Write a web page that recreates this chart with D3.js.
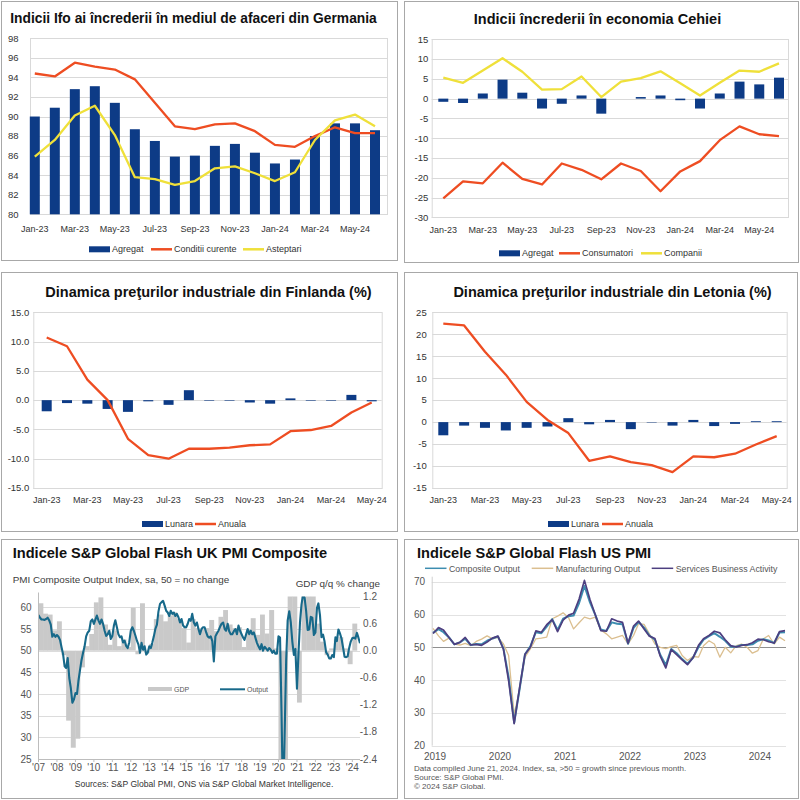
<!DOCTYPE html>
<html>
<head>
<meta charset="utf-8">
<script src="https://cdn.jsdelivr.net/npm/d3@7"></script>
<style>
  body { margin: 0; background: #fff; }
  svg { display: block; font-family: "Liberation Sans", Arial, sans-serif; }
</style>
</head>
<body>
<svg id="chart" width="800" height="800"></svg>
<script>
// ---- data ----
const months = ["Jan-23", "Feb-23", "Mar-23", "Apr-23", "May-23", "Jun-23", "Jul-23", "Aug-23", "Sep-23",
    "Oct-23", "Nov-23", "Dec-23", "Jan-24", "Feb-24", "Mar-24", "Apr-24", "May-24", "Jun-24"];
const monthsToMay = months.slice(0, 17);

const ifoAgregat = [90.0, 90.9, 92.8, 93.1, 91.4, 88.7, 87.5, 85.9, 86.0, 87.0, 87.2, 86.3, 85.2, 85.6, 88.0, 89.3, 89.3, 88.6];
const ifoCurente = [94.4, 94.1, 95.5, 95.1, 94.8, 93.8, 91.4, 89.0, 88.7, 89.2, 89.3, 88.5, 87.1, 86.9, 88.0, 88.9, 88.3, 88.3];
const ifoAsteptari = [85.9, 87.6, 90.1, 91.1, 88.1, 83.8, 83.6, 83.0, 83.4, 84.7, 84.9, 84.2, 83.4, 84.3, 87.6, 89.6, 90.2, 89.0];

const czAgregat = [-0.8, -1.1, 1.3, 4.8, 1.5, -2.5, -1.3, 0.8, -3.8, 0.0, 0.4, 0.8, -0.4, -2.5, 1.3, 4.3, 3.6, 5.3];
const czConsumatori = [-25.2, -20.9, -21.4, -16.2, -20.3, -21.7, -16.4, -18.0, -20.4, -16.4, -18.3, -23.4, -18.4, -15.8, -10.5, -7.0, -9.0, -9.5];
const czCompanii = [5.3, 4.0, 7.1, 10.2, 6.8, 2.3, 2.4, 5.6, 0.4, 4.3, 5.2, 6.9, 3.9, 0.8, 4.0, 7.1, 6.8, 8.9];

const fiLunara = [-1.9, -0.5, -0.6, -1.5, -2.0, -0.2, -0.8, 1.7, -0.1, -0.1, -0.4, -0.6, 0.3, -0.1, -0.1, 0.9, -0.2];
const fiAnuala = [10.7, 9.2, 3.5, 0.0, -6.6, -9.4, -10.0, -8.3, -8.3, -8.1, -7.7, -7.55, -5.3, -5.1, -4.4, -2.1, -0.4];

const lvLunara = [-3.0, -0.8, -1.3, -1.9, -1.3, -1.0, 0.9, -0.5, 0.5, -1.6, -0.1, -0.8, 0.5, -0.9, -0.4, 0.2, 0.2];
const lvAnuala = [22.4, 22.0, 16.0, 10.8, 4.6, 0.5, -2.5, -8.8, -7.8, -9.1, -9.8, -11.4, -7.8, -8.0, -7.2, -5.1, -3.2];

// UK composite output, monthly Jan 2007 - Jun 2024
const ukOutput = [
    58.2, 57.6, 57.2, 57.2, 57.1, 57.3, 57.6, 57.0, 56.0, 53.2, 53.8, 53.2,
    53.6, 53.2, 52.5, 50.8, 49.2, 46.4, 46.0, 48.3, 43.7, 41.4, 38.0, 38.7,
    40.2, 40.0, 43.0, 45.5, 47.8, 49.5, 51.0, 53.3, 54.2, 54.6, 56.8, 57.2,
    56.2, 57.2, 58.1, 57.0, 56.2, 57.2, 56.2, 54.6, 53.4, 53.8, 54.6, 52.7,
    53.4, 55.8, 57.0, 55.4, 53.8, 53.1, 53.3, 51.9, 52.3, 51.1, 50.6, 51.9,
    54.6, 55.4, 54.6, 53.5, 52.3, 51.4, 49.5, 51.8, 50.2, 51.0, 49.1, 49.5,
    51.0, 50.6, 51.8, 53.3, 55.0, 56.0, 59.0, 60.8, 61.2, 61.5, 60.4, 59.2,
    58.8, 58.0, 59.2, 58.5, 58.8, 58.0, 58.5, 57.7, 56.5, 57.3, 55.8, 55.4,
    55.4, 56.2, 57.3, 56.9, 58.5, 56.5, 55.8, 56.5, 55.0, 53.8, 55.0, 55.4,
    55.4, 54.2, 53.3, 53.0, 53.3, 52.2, 47.5, 53.3, 54.0, 54.6, 55.5, 56.2,
    56.5, 55.0, 54.6, 56.2, 54.5, 53.8, 53.8, 54.5, 55.0, 53.8, 55.8, 54.6,
    53.8, 53.0, 52.5, 53.8, 55.0, 53.8, 54.6, 53.8, 54.2, 53.0, 51.8, 51.0,
    50.3, 51.5, 50.0, 50.9, 50.5, 50.0, 50.6, 50.2, 49.5, 50.0, 49.3, 49.3,
    53.3, 53.0, 36.0, 13.8, 30.0, 47.7, 57.0, 59.1, 56.5, 52.1, 49.0, 50.4,
    41.2, 49.6, 56.4, 60.7, 62.9, 62.2, 59.2, 54.8, 54.9, 57.8, 57.6, 53.6,
    54.2, 59.9, 60.9, 58.2, 53.1, 53.7, 52.1, 49.6, 49.1, 48.2, 48.2, 49.0,
    48.5, 53.1, 52.2, 54.9, 54.0, 52.8, 50.8, 48.6, 48.5, 48.7, 50.7, 52.1,
    52.9, 53.0, 52.8, 54.1, 53.0, 51.7
];
// UK GDP q/q %, 2007 Q1 - 2024 Q1
const ukGdp = [
    1.05, 0.82, 0.80, 0.45,
    0.65, -0.10, -1.55, -2.15,
    -1.95, -0.37, 0.10, 0.37,
    1.07, 1.18, 0.58, 0.13,
    0.45, 0.10, 0.25, 0.08,
    0.95, -0.08, 1.05, -0.05,
    0.15, 0.70, 0.80, 0.65,
    0.78, 0.85, 0.70, 0.50,
    0.18, 0.70, 0.50, 0.47,
    0.50, 0.68, 0.43, 0.75,
    0.90, 0.58, 0.50, 0.52,
    0.08, 0.47, 0.72, 0.35,
    0.80, 0.38, 0.90, 0.05,
    -2.6, -19.4, 16.0, 1.3,
    -1.15, 7.0, 1.7, 1.5,
    0.60, 0.20, -0.10, 0.05,
    0.25, 0.30, 0.05, -0.30,
    0.60
];
const ukYearLabels = ["'07", "'08", "'09", "'10", "'11", "'12", "'13", "'14", "'15", "'16", "'17", "'18",
    "'19", "'20", "'21", "'22", "'23", "'24"];

// US flash PMI, monthly Jan 2019 - Jun 2024
const usComposite = [
    54.4, 55.5, 54.6, 53.0, 50.9, 51.5, 52.6, 50.7, 51.0, 50.9, 52.0, 52.7,
    53.3, 49.6, 40.9, 27.0, 37.0, 47.9, 50.3, 54.6, 54.3, 56.3, 58.6, 55.3,
    58.7, 59.5, 59.7, 63.5, 68.7, 63.7, 59.9, 55.4, 55.0, 57.6, 57.2, 57.0,
    51.1, 55.9, 57.7, 56.0, 53.6, 52.3, 47.7, 44.6, 49.5, 48.2, 46.4, 45.0,
    46.8, 50.1, 52.3, 53.4, 54.3, 53.2, 52.0, 50.2, 50.2, 50.7, 50.7, 50.9,
    52.0, 52.5, 52.1, 51.3, 54.5, 54.6
];
const usManufacturing = [
    55.8, 53.5, 51.8, 52.8, 51.0, 50.7, 51.2, 50.5, 51.8, 52.5, 53.5, 52.6,
    53.0, 51.0, 47.5, 29.5, 37.0, 47.0, 49.5, 52.6, 52.8, 53.1, 58.7, 59.5,
    60.5, 59.0, 55.6, 57.5, 59.2, 58.7, 59.2, 55.3, 54.1, 52.6, 53.1, 53.6,
    51.0, 53.6, 57.2, 57.0, 54.1, 51.0, 50.0, 49.6, 50.2, 50.6, 47.5, 46.0,
    47.2, 47.0, 50.5, 52.0, 51.0, 47.0, 50.0, 48.3, 50.5, 51.0, 50.0, 48.2,
    49.0, 52.6, 53.6, 51.0, 53.1, 52.0
];
const usServices = [
    54.2, 56.0, 55.3, 53.0, 50.9, 51.5, 53.0, 50.7, 50.9, 50.6, 51.6, 52.8,
    53.4, 49.4, 39.8, 26.7, 37.5, 47.9, 50.0, 55.0, 54.6, 56.9, 58.4, 54.8,
    58.3, 59.8, 60.4, 64.7, 70.4, 64.6, 59.9, 55.1, 54.9, 58.7, 58.0, 57.6,
    51.2, 56.5, 58.0, 55.6, 53.4, 52.7, 47.3, 43.7, 49.3, 47.8, 46.2, 44.7,
    46.8, 50.6, 52.6, 53.6, 54.9, 54.4, 52.3, 50.5, 50.1, 50.6, 50.8, 51.4,
    52.5, 52.3, 51.7, 51.3, 54.8, 55.1
];
const usYearLabels = ["2019", "2020", "2021", "2022", "2023", "2024"];

// ---- drawing ----
const navy = "#0d3b86";
const red = "#ee4d22";
const yellow = "#efe03a";
const svg = d3.select("#chart");

function frame(x, y, w, h) {
    svg.append("rect")
        .attr("x", x + 0.5).attr("y", y + 0.5)
        .attr("width", w).attr("height", h)
        .attr("fill", "#fff")
        .attr("stroke", "#a8a8a8");
}

function comboChart(cfg) {
    const x = d3.scalePoint().domain(cfg.categories).range([cfg.xFirst, cfg.xLast]);
    const y = d3.scaleLinear().domain(cfg.yDomain).range([cfg.bottom, cfg.top]);
    const g = svg.append("g");

    g.selectAll(".grid")
        .data(cfg.yTicks)
        .join("line")
        .attr("x1", cfg.left).attr("x2", cfg.right)
        .attr("y1", d => Math.round(y(d)) + 0.5).attr("y2", d => Math.round(y(d)) + 0.5)
        .attr("stroke", "#d9d9d9");

    g.append("rect")
        .attr("x", cfg.left + 0.5).attr("y", Math.round(cfg.top) + 0.5)
        .attr("width", cfg.right - cfg.left).attr("height", Math.round(cfg.bottom) - Math.round(cfg.top))
        .attr("fill", "none")
        .attr("stroke", "#d9d9d9");

    g.selectAll(".ylab")
        .data(cfg.yTicks)
        .join("text")
        .attr("x", cfg.yLabelX)
        .attr("y", d => y(d))
        .attr("dy", "0.35em")
        .attr("text-anchor", "end")
        .attr("font-size", 9.5)
        .attr("fill", "#333")
        .text(cfg.yFormat);

    g.selectAll(".xlab")
        .data(cfg.categories.filter((d, i) => i % 2 === 0))
        .join("text")
        .attr("x", d => x(d))
        .attr("y", cfg.xLabelY)
        .attr("text-anchor", "middle")
        .attr("font-size", 9)
        .attr("fill", "#333")
        .text(d => d);

    const base = y(Math.max(cfg.yDomain[0], 0));
    g.selectAll(".bar")
        .data(cfg.bars)
        .join("rect")
        .attr("x", (d, i) => x(cfg.categories[i]) - cfg.barWidth / 2)
        .attr("y", d => Math.min(y(d), base))
        .attr("width", cfg.barWidth)
        .attr("height", d => Math.abs(base - y(d)))
        .attr("fill", navy);

    cfg.lines.forEach(s => {
        g.append("path")
            .datum(s.values)
            .attr("fill", "none")
            .attr("stroke", s.color)
            .attr("stroke-width", 2.3)
            .attr("stroke-linejoin", "round")
            .attr("d", d3.line().x((d, i) => x(cfg.categories[i])).y(d => y(d)));
    });

    g.append("text")
        .attr("x", cfg.titleX).attr("y", cfg.titleY)
        .attr("text-anchor", "middle")
        .attr("font-size", cfg.titleSize)
        .attr("font-weight", "bold")
        .attr("fill", "#111")
        .text(cfg.title);

    cfg.legend.forEach(item => {
        if (item.type === "bar") {
            g.append("rect")
                .attr("x", item.x).attr("y", cfg.legendY - 3)
                .attr("width", 21).attr("height", 6)
                .attr("fill", navy);
        } else {
            g.append("line")
                .attr("x1", item.x).attr("x2", item.x + 21)
                .attr("y1", cfg.legendY).attr("y2", cfg.legendY)
                .attr("stroke", item.color)
                .attr("stroke-width", 2.5);
        }
        g.append("text")
            .attr("x", item.x + 23).attr("y", cfg.legendY)
            .attr("dy", "0.35em")
            .attr("font-size", 9)
            .attr("fill", "#333")
            .text(item.label);
    });
}

function ukChart() {
    const left = 38.5, right = 360, top = 596.5, bottom = 759;
    const x = d3.scaleTime().domain([new Date(2007, 0, 1), new Date(2024, 5, 1)]).range([left, right]);
    const yL = d3.scaleLinear().domain([25, 62.5]).range([bottom, top]);
    const yR = d3.scaleLinear().domain([-2.4, 1.2]).range([bottom, top]);
    const g = svg.append("g");

    svg.append("clipPath").attr("id", "ukclip")
        .append("rect").attr("x", left).attr("y", top)
        .attr("width", right - left).attr("height", bottom - top);

    g.selectAll(".grid")
        .data(d3.range(30, 61, 5))
        .join("line")
        .attr("x1", left).attr("x2", right)
        .attr("y1", d => Math.round(yL(d)) + 0.5).attr("y2", d => Math.round(yL(d)) + 0.5)
        .attr("stroke", "#dcdcdc");

    const plot = g.append("g").attr("clip-path", "url(#ukclip)");
    plot.selectAll(".gdp")
        .data(ukGdp)
        .join("rect")
        .attr("x", (d, i) => x(new Date(2007, i * 3, 1)))
        .attr("width", (d, i) => x(new Date(2007, i * 3 + 3, 1)) - x(new Date(2007, i * 3, 1)) + 0.3)
        .attr("y", d => Math.min(yR(d), yR(0)))
        .attr("height", d => Math.abs(yR(d) - yR(0)))
        .attr("fill", "#c9c9c9");

    plot.append("path")
        .datum(ukOutput)
        .attr("fill", "none")
        .attr("stroke", "#17698a")
        .attr("stroke-width", 2.1)
        .attr("stroke-linejoin", "round")
        .attr("d", d3.line().x((d, i) => x(new Date(2007, i, 1))).y(d => yL(d)));

    g.append("line")
        .attr("x1", left).attr("x2", left).attr("y1", top - 4).attr("y2", bottom)
        .attr("stroke", "#bdbdbd");
    g.append("line")
        .attr("x1", left).attr("x2", right).attr("y1", bottom + 0.5).attr("y2", bottom + 0.5)
        .attr("stroke", "#bdbdbd");

    g.selectAll(".ylab")
        .data(d3.range(25, 61, 5))
        .join("text")
        .attr("x", 31.7).attr("y", d => yL(d)).attr("dy", "0.35em")
        .attr("text-anchor", "end")
        .attr("font-size", 10).attr("fill", "#555")
        .text(d => d);

    g.selectAll(".rlab")
        .data([1.2, 0.6, 0, -0.6, -1.2, -1.8, -2.4])
        .join("text")
        .attr("x", 377).attr("y", d => yR(d)).attr("dy", "0.35em")
        .attr("text-anchor", "end")
        .attr("font-size", 10).attr("fill", "#555")
        .text(d => d.toFixed(1));

    const years = ukYearLabels.map((d, i) => new Date(2007 + i, 0, 1));
    g.selectAll(".xtick")
        .data(years)
        .join("line")
        .attr("x1", d => x(d)).attr("x2", d => x(d))
        .attr("y1", bottom).attr("y2", bottom + 3)
        .attr("stroke", "#bdbdbd");
    g.selectAll(".xlab")
        .data(years)
        .join("text")
        .attr("x", d => x(d)).attr("y", 771)
        .attr("text-anchor", "middle")
        .attr("font-size", 10).attr("fill", "#555")
        .text((d, i) => ukYearLabels[i]);

    g.append("text")
        .attr("x", 12.7).attr("y", 558.3)
        .attr("font-size", 14.6).attr("font-weight", "bold").attr("fill", "#111")
        .text("Indicele S&P Global Flash UK PMI Composite");
    g.append("text")
        .attr("x", 12.7).attr("y", 582.7)
        .attr("font-size", 9.9).attr("fill", "#404040")
        .text("PMI Composite Output Index, sa, 50 = no change");
    g.append("text")
        .attr("x", 380).attr("y", 586.7)
        .attr("text-anchor", "end")
        .attr("font-size", 9.9).attr("fill", "#404040")
        .text("GDP q/q % change");

    g.append("rect").attr("x", 148).attr("y", 687).attr("width", 24).attr("height", 4).attr("fill", "#c9c9c9");
    g.append("text").attr("x", 174).attr("y", 689.3).attr("dy", "0.35em")
        .attr("font-size", 7).attr("fill", "#555").text("GDP");
    g.append("line").attr("x1", 220).attr("x2", 245).attr("y1", 689.3).attr("y2", 689.3)
        .attr("stroke", "#17698a").attr("stroke-width", 2);
    g.append("text").attr("x", 247).attr("y", 689.3).attr("dy", "0.35em")
        .attr("font-size", 7).attr("fill", "#555").text("Output");

    g.append("text")
        .attr("x", 204).attr("y", 786.5)
        .attr("text-anchor", "middle")
        .attr("font-size", 8.6).attr("fill", "#333")
        .text("Sources: S&P Global PMI, ONS via S&P Global Market Intelligence.");
}

function usChart() {
    const left = 431.7, top = 581.7, bottom = 745.7;
    const x = d3.scaleTime().domain([new Date(2019, 0, 1), new Date(2024, 5, 1)]).range([433, 785]);
    const y = d3.scaleLinear().domain([20, 70]).range([bottom, top]);
    const g = svg.append("g");

    g.selectAll(".grid")
        .data([20, 30, 40, 60, 70])
        .join("line")
        .attr("x1", left).attr("x2", 786)
        .attr("y1", d => Math.round(y(d)) + 0.5).attr("y2", d => Math.round(y(d)) + 0.5)
        .attr("stroke", "#e2e2e2");
    g.append("line")
        .attr("x1", left).attr("x2", 786)
        .attr("y1", Math.round(y(50)) + 0.5).attr("y2", Math.round(y(50)) + 0.5)
        .attr("stroke", "#8f8f8f");
    g.append("line")
        .attr("x1", left + 0.5).attr("x2", left + 0.5).attr("y1", top - 5).attr("y2", bottom)
        .attr("stroke", "#d0d0d0");

    const series = [
        {values: usManufacturing, color: "#dbbf90", width: 1.3},
        {values: usComposite, color: "#3d8db0", width: 2},
        {values: usServices, color: "#4d3f80", width: 1.7}
    ];
    series.forEach(s => {
        g.append("path")
            .datum(s.values)
            .attr("fill", "none")
            .attr("stroke", s.color)
            .attr("stroke-width", s.width)
            .attr("stroke-linejoin", "round")
            .attr("d", d3.line().x((d, i) => x(new Date(2019, i, 1))).y(d => y(d)));
    });

    g.selectAll(".ylab")
        .data(d3.range(20, 71, 10))
        .join("text")
        .attr("x", 425).attr("y", d => y(d)).attr("dy", "0.35em")
        .attr("text-anchor", "end")
        .attr("font-size", 10).attr("fill", "#555")
        .text(d => d);

    g.selectAll(".xlab")
        .data(usYearLabels)
        .join("text")
        .attr("x", (d, i) => x(new Date(2019 + i, 0, 1)) + 2)
        .attr("y", 759.5)
        .attr("text-anchor", "middle")
        .attr("font-size", 10).attr("fill", "#555")
        .text(d => d);

    g.append("text")
        .attr("x", 417).attr("y", 558.3)
        .attr("font-size", 14.6).attr("font-weight", "bold").attr("fill", "#111")
        .text("Indicele S&P Global Flash US PMI");

    const legend = [
        {x: 425, label: "Composite Output", color: "#3d8db0"},
        {x: 531.7, label: "Manufacturing Output", color: "#dbbf90"},
        {x: 651.7, label: "Services Business Activity", color: "#4d3f80"}
    ];
    legend.forEach(item => {
        g.append("line")
            .attr("x1", item.x).attr("x2", item.x + 21.5)
            .attr("y1", 568.3).attr("y2", 568.3)
            .attr("stroke", item.color).attr("stroke-width", 1.5);
        g.append("text")
            .attr("x", item.x + 24).attr("y", 571.5)
            .attr("font-size", 8.8).attr("fill", "#555")
            .text(item.label);
    });

    const notes = ["Data compiled June 21, 2024. Index, sa, >50 = growth since previous month.",
        "Source: S&P Global PMI.", "\u00a9 2024 S&P Global."];
    g.selectAll(".note")
        .data(notes)
        .join("text")
        .attr("x", 414).attr("y", (d, i) => 771 + i * 9)
        .attr("font-size", 8).attr("fill", "#555")
        .text(d => d);
}

frame(1, 1, 396, 259);
frame(404, 1, 394, 261);
frame(1, 272, 396, 259);
frame(404, 272, 393, 259);
frame(1, 539, 396, 259);
frame(404, 539, 394, 259);

comboChart({
    title: "Indicii Ifo ai \u00eencrederii \u00een mediul de afaceri din Germania",
    titleX: 193.5, titleY: 23, titleSize: 13.8,
    categories: months,
    bars: ifoAgregat,
    lines: [{values: ifoCurente, color: red}, {values: ifoAsteptari, color: yellow}],
    left: 30, right: 387, top: 38.3, bottom: 214.3,
    xFirst: 34.8, xLast: 375,
    yDomain: [80, 98], yTicks: d3.range(80, 99, 2), yFormat: d => d,
    yLabelX: 18.5, xLabelY: 232, barWidth: 10,
    legendY: 249.3,
    legend: [
        {type: "bar", x: 89, label: "Agregat"},
        {type: "line", x: 151, label: "Conditii curente", color: red},
        {type: "line", x: 243, label: "Asteptari", color: yellow}
    ]
});

comboChart({
    title: "Indicii \u00eencrederii \u00een economia Cehiei",
    titleX: 597.5, titleY: 23.5, titleSize: 14.5,
    categories: months,
    bars: czAgregat,
    lines: [{values: czConsumatori, color: red}, {values: czCompanii, color: yellow}],
    left: 431.7, right: 788, top: 39.3, bottom: 217.3,
    xFirst: 443.3, xLast: 779,
    yDomain: [-30, 15], yTicks: d3.range(-30, 16, 5), yFormat: d => d,
    yLabelX: 428.3, xLabelY: 233, barWidth: 10,
    legendY: 253.3,
    legend: [
        {type: "bar", x: 499, label: "Agregat"},
        {type: "line", x: 559, label: "Consumatori", color: red},
        {type: "line", x: 641, label: "Companii", color: yellow}
    ]
});

comboChart({
    title: "Dinamica pre\u0163urilor industriale din Finlanda (%)",
    titleX: 208.5, titleY: 297, titleSize: 14.5,
    categories: monthsToMay,
    bars: fiLunara,
    lines: [{values: fiAnuala, color: red}],
    left: 33.3, right: 381.7, top: 312.3, bottom: 488,
    xFirst: 46.7, xLast: 371.7,
    yDomain: [-15, 15], yTicks: d3.range(-15, 16, 5), yFormat: d => d.toFixed(1),
    yLabelX: 29.3, xLabelY: 503, barWidth: 10,
    legendY: 524,
    legend: [
        {type: "bar", x: 142, label: "Lunara"},
        {type: "line", x: 195, label: "Anuala", color: red}
    ]
});

comboChart({
    title: "Dinamica pre\u0163urilor industriale din Letonia (%)",
    titleX: 612.5, titleY: 297, titleSize: 14.5,
    categories: monthsToMay,
    bars: lvLunara,
    lines: [{values: lvAnuala, color: red}],
    left: 432.3, right: 786.7, top: 312.3, bottom: 488,
    xFirst: 443.3, xLast: 776.7,
    yDomain: [-15, 25], yTicks: d3.range(-15, 26, 5), yFormat: d => d,
    yLabelX: 426.7, xLabelY: 503, barWidth: 10,
    legendY: 524,
    legend: [
        {type: "bar", x: 548, label: "Lunara"},
        {type: "line", x: 602, label: "Anuala", color: red}
    ]
});

ukChart();
usChart();
</script>
</body>
</html>
